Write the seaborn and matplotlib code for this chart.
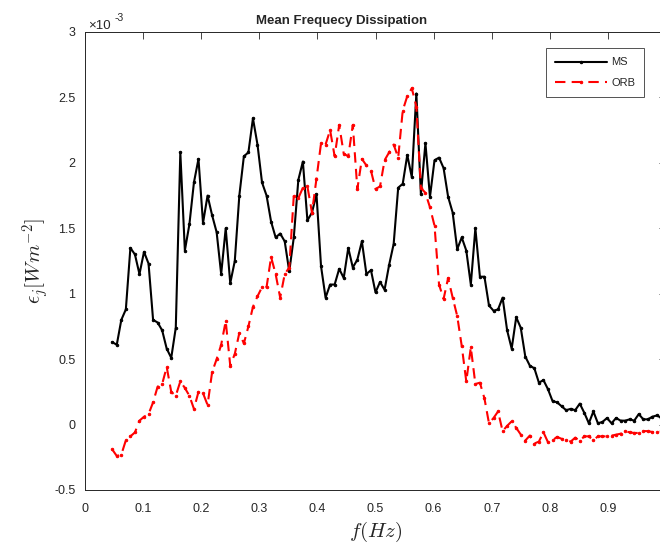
import numpy as np
import pandas as pd
import matplotlib.pyplot as plt
import seaborn as sns

# frequency bins (k/128 Hz, k = 6..128)
freq = np.arange(6, 129) / 128

# dissipation, in units of 1e-3 W m^-2
ms = [0.63, 0.61, 0.80, 0.88, 1.35, 1.30, 1.15, 1.32, 1.23, 0.80, 0.78, 0.72, 0.58, 0.51, 0.74,
      2.08, 1.33, 1.53, 1.85, 2.03, 1.54, 1.75, 1.60, 1.47, 1.15, 1.50, 1.08,
      1.25, 1.75, 2.05, 2.08, 2.34, 2.14, 1.85, 1.75, 1.55, 1.43, 1.46, 1.40, 1.17, 1.43, 1.87,
      2.01, 1.56, 1.62, 1.76, 1.21, 0.97, 1.07, 1.07, 1.19, 1.12, 1.35, 1.20, 1.26, 1.40, 1.15,
      1.18, 1.01, 1.09, 1.03, 1.22, 1.38, 1.81, 1.84, 2.06, 1.89, 2.53, 1.76, 2.15, 1.74, 2.02,
      2.04, 1.96, 1.74, 1.62, 1.34, 1.43, 1.33, 1.07, 1.50, 1.13, 1.13, 0.91, 0.87, 0.88, 0.97, 0.72,
      0.58, 0.82, 0.74, 0.52, 0.45, 0.43, 0.32, 0.34, 0.27, 0.18, 0.17, 0.14, 0.11, 0.12, 0.11,
      0.16, 0.09, 0.01, 0.10, 0.01, 0.02, 0.05, 0.01, 0.05, 0.03, 0.03, 0.04, 0.03, 0.08, 0.04,
      0.04, 0.06, 0.07, 0.05, 0.06]
orb = [-0.19, -0.24, -0.23, -0.12, -0.09, -0.06, 0.03, 0.06, 0.08, 0.17, 0.29, 0.31, 0.44, 0.25,
       0.22, 0.33, 0.28, 0.22, 0.12, 0.25, 0.24, 0.15, 0.40, 0.50, 0.61, 0.79, 0.45,
       0.54, 0.70, 0.62, 0.75, 0.90, 0.98, 1.05, 1.05, 1.28, 1.15, 0.97, 1.15, 1.20, 1.75, 1.73,
       1.81, 1.82, 1.62, 1.88, 2.15, 2.14, 2.25, 2.05, 2.29, 2.07, 2.05, 2.29, 1.80, 2.03, 1.98,
       1.94, 1.80, 1.82, 2.02, 2.08, 2.14, 2.04, 2.40, 2.51, 2.57, 2.43, 1.81, 1.77, 1.66, 1.52,
       1.07, 0.96, 1.12, 0.97, 0.83, 0.60, 0.33, 0.59, 0.31, 0.32, 0.20, 0.01, 0.05, 0.10, -0.05, -0.01,
       0.025, -0.025, -0.076, -0.122, -0.084, -0.145, -0.13, -0.059, -0.135, -0.12, -0.094, -0.109,
       -0.115, -0.13, -0.10, -0.125, -0.09, -0.09, -0.12, -0.09, -0.09, -0.09, -0.085, -0.077,
       -0.07, -0.05, -0.06, -0.064, -0.064, -0.05, -0.05, -0.057, -0.06, -0.05, -0.05]

xticks = [0, 0.1, 0.2, 0.3, 0.4, 0.5, 0.6, 0.7, 0.8, 0.9]
yticks = [-0.5, 0, 0.5, 1, 1.5, 2, 2.5, 3]

df = pd.DataFrame({'f': freq, 'MS': ms, 'ORB': orb})

sns.set_style('white')
plt.rcParams['font.family'] = ['Liberation Sans', 'DejaVu Sans']
plt.rcParams['mathtext.fontset'] = 'cm'
plt.rcParams['axes.unicode_minus'] = False

axcol = (0.15, 0.15, 0.15)
fig = plt.figure(figsize=(6.6, 5.47), dpi=100)
ax = fig.add_axes([85 / 660, 57 / 547, 581 / 660, 458 / 547])

sns.lineplot(data=df, x='f', y='MS', ax=ax, color='black', lw=1.5, marker='.', ms=3.5,
             mec='black', label='MS')
sns.lineplot(data=df, x='f', y='ORB', ax=ax, color='red', lw=1.5, marker='.', ms=3.5,
             mec='red', dashes=(5, 3), label='ORB')

ax.set_xlim(0, 1)
ax.set_ylim(-0.5, 3)
ax.set_xticks(xticks)
ax.set_yticks(yticks)
ax.set_xticklabels([f'{t:g}' for t in xticks])
ax.set_yticklabels([f'{t:g}' for t in yticks])
ax.tick_params(direction='in', length=5, width=0.6, colors=axcol, labelsize=9,
               top=True, right=True, labelcolor=axcol, pad=7)
ax.tick_params(axis='x', pad=9)
for s in ax.spines.values():
    s.set_visible(True)
    s.set_color(axcol)
    s.set_linewidth(0.7)

ax.set_xlabel(r'$f(Hz)$', fontsize=15, labelpad=4)
ax.set_ylabel(r'$\epsilon_j[Wm^{-2}]$', fontsize=15, labelpad=2)
ax.set_title('Mean Frequecy Dissipation', fontsize=9.5, fontweight='bold',
             x=(342 - 85) / 581, pad=6)

fig.text(88 / 660, 1 - 29 / 547, '×10', fontsize=9.5, color=axcol)
fig.text(115 / 660, 1 - 21 / 547, '-3', fontsize=7.5, color=axcol)

leg = ax.legend(loc='upper left', bbox_to_anchor=(546 / 660, 1 - 48 / 547),
                bbox_transform=fig.transFigure, fontsize=8, frameon=True, fancybox=False,
                handlelength=4.6, borderpad=0.85, labelspacing=0.95, handletextpad=0.4,
                borderaxespad=0)
leg.get_frame().set_edgecolor(axcol)
leg.get_frame().set_linewidth(0.7)

fig.savefig('out.png', dpi=100)
